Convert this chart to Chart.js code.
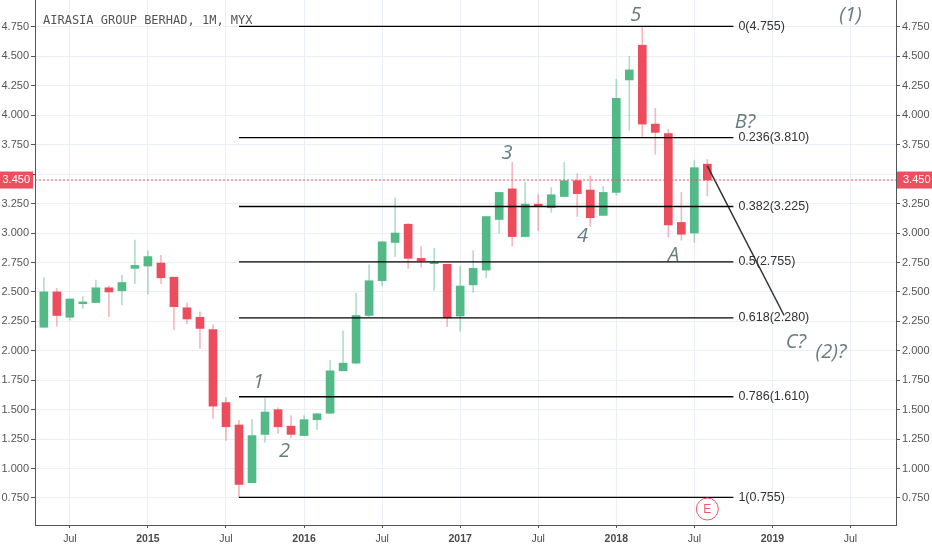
<!DOCTYPE html>
<html lang="en">
<head>
<meta charset="UTF-8">
<title>AirAsia Group Berhad, 1M</title>
<script src="https://cdn.jsdelivr.net/npm/chart.js"></script>
<style>
  body { margin: 0; background: #fff; }
  .chart-box { width: 932px; height: 550px; }
</style>
</head>
<body>
<div class="chart-box"><canvas id="priceChart"></canvas></div>
<script>
// month index: 0 = Jan 2015 (May 2014 .. Aug 2018)
const months = [-8, -7, -6, -5, -4, -3, -2, -1, 0, 1, 2, 3, 4, 5, 6, 7, 8, 9, 10, 11, 12, 13, 14, 15, 16, 17,
                18, 19, 20, 21, 22, 23, 24, 25, 26, 27, 28, 29, 30, 31, 32, 33, 34, 35, 36, 37, 38, 39, 40, 41, 42, 43];
const opens  = [2.20, 2.50, 2.285, 2.40, 2.41, 2.535, 2.51, 2.70, 2.72, 2.745, 2.625, 2.365, 2.285, 2.18, 1.56, 1.37, 0.88, 1.29,
                1.50, 1.36, 1.28, 1.415, 1.47, 1.83, 1.895, 2.30, 2.595, 2.92, 3.075, 2.785, 2.74, 2.735, 2.295, 2.56, 2.685,
                3.115, 3.375, 2.97, 3.245, 3.215, 3.31, 3.445, 3.365, 3.15, 3.345, 4.30, 4.595, 3.925, 3.845, 3.09, 3.00, 3.585];
const highs  = [2.62, 2.53, 2.44, 2.46, 2.60, 2.55, 2.64, 2.94, 2.85, 2.81, 2.625, 2.405, 2.33, 2.22, 1.60, 1.41, 1.415, 1.595,
                1.515, 1.45, 1.45, 1.47, 1.92, 2.17, 2.49, 2.73, 2.93, 3.30, 3.08, 2.885, 2.87, 2.735, 2.715, 2.85, 3.14,
                3.345, 3.60, 3.43, 3.325, 3.385, 3.60, 3.505, 3.485, 3.395, 4.305, 4.50, 4.755, 4.06, 3.88, 3.345, 3.615, 3.625];
const lows   = [2.20, 2.21, 2.26, 2.36, 2.41, 2.29, 2.39, 2.57, 2.48, 2.57, 2.18, 2.23, 2.02, 1.425, 1.24, 0.755, 0.88, 1.225,
                1.30, 1.26, 1.28, 1.33, 1.47, 1.83, 1.89, 2.29, 2.55, 2.80, 2.70, 2.71, 2.515, 2.205, 2.165, 2.495, 2.62,
                3.00, 2.89, 2.97, 3.02, 3.175, 3.31, 3.14, 3.055, 3.15, 3.32, 3.875, 3.82, 3.67, 2.965, 2.94, 2.92, 3.315];
const closes = [2.50, 2.30, 2.44, 2.415, 2.535, 2.50, 2.58, 2.725, 2.80, 2.62, 2.375, 2.27, 2.19, 1.53, 1.355, 0.865, 1.28, 1.48,
                1.355, 1.29, 1.415, 1.465, 1.83, 1.895, 2.30, 2.595, 2.925, 3.00, 2.785, 2.765, 2.75, 2.28, 2.55, 2.70, 3.14,
                3.345, 2.97, 3.245, 3.23, 3.325, 3.445, 3.335, 3.13, 3.345, 4.145, 4.385, 3.925, 3.855, 3.07, 2.99, 3.555, 3.45];

const monthTicks = [-6, 0, 6, 12, 18, 24, 30, 36, 42, 48, 54];
const tickLabels = ['Jul', '2015', 'Jul', '2016', 'Jul', '2017', 'Jul', '2018', 'Jul', '2019', 'Jul'];
const priceTicks = [0.75, 1.0, 1.25, 1.5, 1.75, 2.0, 2.25, 2.5, 2.75, 3.0, 3.25, 3.5, 3.75, 4.0, 4.25, 4.5, 4.75];

// fibonacci retracement from Aug 2015 low to Mar 2018 high
const fibRatios = ['0', '0.236', '0.382', '0.5', '0.618', '0.786', '1'];
const fibLevels = [4.755, 3.810, 3.225, 2.755, 2.280, 1.610, 0.755];
const fibFrom = 7, fibTo = 45;

const lastPrice = 3.450;
const projMonths = [43, 48.9];
const projPrices = [3.57, 2.30];

// elliott wave counts
const waveText   = ['1', '2', '3', '4', '5', 'A', 'B?', 'C?', '(2)?', '(1)'];
const waveMonths = [8.5, 10.5, 27.6, 33.4, 37.5, 40.4, 45.9, 49.8, 52.5, 54];
const wavePrices = [1.735, 1.15, 3.68, 2.97, 4.85, 2.81, 3.94, 2.07, 1.99, 4.85];

const earningsMonth = 43;

const up = '#53b987', down = '#eb4d5c';
const isUp = closes.map((c, i) => c >= opens[i]);

const overlay = {
    id: 'overlay',
    afterDatasetsDraw(chart) {
        const { ctx, chartArea: a, scales: { x, y } } = chart;
        ctx.save();
        ctx.font = '12px "DejaVu Sans Mono"';
        ctx.fillStyle = '#555';
        ctx.fillText('AIRASIA GROUP BERHAD, 1M, MYX', a.left + 8, 24);

        ctx.font = '12.5px "Liberation Sans"';
        ctx.fillStyle = '#333';
        ctx.textBaseline = 'middle';
        fibLevels.forEach((lv, i) => {
            ctx.fillText(fibRatios[i] + '(' + lv.toFixed(3) + ')', x.getPixelForValue(fibTo) + 5, y.getPixelForValue(lv));
        });

        ctx.font = 'italic 20px "Open Sans"';
        ctx.fillStyle = '#667c7d';
        ctx.textAlign = 'center';
        waveText.forEach((t, i) => {
            ctx.fillText(t, x.getPixelForValue(waveMonths[i]), y.getPixelForValue(wavePrices[i]));
        });

        // earnings marker
        const ex = x.getPixelForValue(earningsMonth), ey = a.bottom - 16;
        ctx.beginPath();
        ctx.arc(ex, ey, 11, 0, Math.PI * 2);
        ctx.fillStyle = '#fff';
        ctx.fill();
        ctx.strokeStyle = '#f05668';
        ctx.lineWidth = 1;
        ctx.stroke();
        ctx.fillStyle = '#f05668';
        ctx.font = '12px "Liberation Sans"';
        ctx.fillText('E', ex, ey + 1);
        ctx.restore();
    },
    afterDraw(chart) {
        const { ctx, chartArea: a, scales: { y } } = chart;
        const py = y.getPixelForValue(lastPrice);
        ctx.save();
        ctx.fillStyle = '#ee4e5f';
        ctx.fillRect(0, py - 8.5, a.left - 2, 17);
        ctx.fillRect(a.right + 1, py - 8.5, chart.width - a.right - 1, 17);
        ctx.fillStyle = '#fff';
        ctx.font = '11px "Liberation Sans"';
        ctx.textBaseline = 'middle';
        ctx.textAlign = 'right';
        ctx.fillText(lastPrice.toFixed(3), a.left - 5, py);
        ctx.textAlign = 'left';
        ctx.fillText(lastPrice.toFixed(3), a.right + 7, py);
        ctx.restore();
    }
};

const xMin = -8.68, xMax = 57.5;
const lineStyle = { type: 'line', pointRadius: 0, fill: false, order: -1 };

const datasets = [
    {
        label: 'wick',
        data: months.map((m, i) => ({ x: m, y: [lows[i], highs[i]] })),
        backgroundColor: isUp.map(u => u ? 'rgba(83,185,135,0.45)' : 'rgba(235,77,92,0.4)'),
        barThickness: 1,
        grouped: false,
        order: 2
    },
    {
        label: 'body',
        data: months.map((m, i) => ({ x: m, y: [opens[i], closes[i]] })),
        backgroundColor: isUp.map(u => u ? up : down),
        barThickness: 8,
        minBarLength: 1,
        grouped: false,
        order: 1
    },
    ...fibLevels.map(lv => Object.assign({}, lineStyle, {
        data: [{ x: fibFrom, y: lv }, { x: fibTo, y: lv }],
        borderColor: '#000',
        borderWidth: 1.4
    })),
    Object.assign({}, lineStyle, {
        data: [{ x: xMin, y: lastPrice }, { x: xMax, y: lastPrice }],
        borderColor: '#ef5060',
        borderWidth: 1,
        borderDash: [2, 2]
    }),
    Object.assign({}, lineStyle, {
        data: projMonths.map((m, i) => ({ x: m, y: projPrices[i] })),
        borderColor: '#333',
        borderWidth: 1.5
    })
];

const tickFont = { family: 'Liberation Sans', size: 11 };
const noPad = s => { s.paddingTop = 0; s.paddingBottom = 0; s.paddingLeft = 0; s.paddingRight = 0; };
// labels under the last-price badge are hidden, like on the original
const priceLabel = v => Math.abs(v - lastPrice) < 0.08 ? '' : Number(v).toFixed(3);

new Chart(document.getElementById('priceChart'), {
    type: 'bar',
    data: { datasets },
    plugins: [overlay],
    options: {
        responsive: true,
        maintainAspectRatio: false,
        animation: false,
        layout: { padding: 0, autoPadding: false },
        plugins: { legend: { display: false }, tooltip: { enabled: false } },
        scales: {
            x: {
                type: 'linear',
                min: xMin,
                max: xMax,
                offset: false,
                afterBuildTicks: s => { s.ticks = monthTicks.map(v => ({ value: v })); },
                afterFit: s => { s.height = 25; noPad(s); },
                grid: { offset: false, color: '#e9eff4', tickColor: '#555', tickLength: 3 },
                border: { color: '#555' },
                ticks: {
                    maxRotation: 0,
                    padding: 5,
                    color: '#4a4a4a',
                    font: c => ({ family: 'Liberation Sans', size: 10.5, weight: /^\d/.test(tickLabels[c.index] || '') ? 'bold' : 'normal' }),
                    callback: (v, i) => tickLabels[i]
                }
            },
            y: {
                position: 'left',
                min: 0.5207,
                max: 4.979,
                afterBuildTicks: s => { s.ticks = priceTicks.map(v => ({ value: v })); },
                afterFit: s => { s.width = 35; noPad(s); },
                grid: { color: '#e9eff4', tickColor: '#555', tickLength: 4 },
                border: { color: '#555' },
                ticks: { padding: 2, color: '#555', font: tickFont, callback: priceLabel }
            },
            y2: {
                position: 'right',
                min: 0.5207,
                max: 4.979,
                afterBuildTicks: s => { s.ticks = priceTicks.map(v => ({ value: v })); },
                afterFit: s => { s.width = 36; noPad(s); },
                grid: { drawOnChartArea: false, tickColor: '#555', tickLength: 4 },
                border: { color: '#555' },
                ticks: { padding: 2, color: '#555', font: tickFont, callback: priceLabel }
            }
        }
    }
});
</script>
</body>
</html>
